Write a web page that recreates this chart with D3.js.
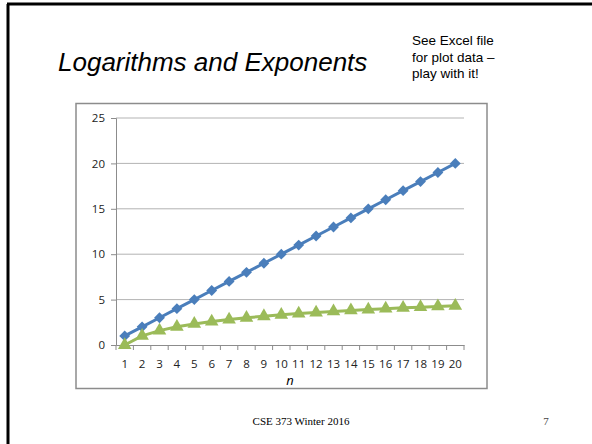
<!DOCTYPE html>
<html lang="en">
<head>
    <meta charset="UTF-8">
    <title>Logarithms and Exponents</title>
    <script src="https://d3js.org/d3.v7.min.js"></script>
    <style>
        body { margin: 0; padding: 0; background: white; }
        svg { display: block; }
        .tick-label { font-family: 'Open Sans', 'Lato', sans-serif; font-size: 11.5px; fill: #222; }
    </style>
</head>
<body>
    <svg width="592" height="444"></svg>
    <script>
        // chart values
        const nValues = [1, 2, 3, 4, 5, 6, 7, 8, 9, 10, 11, 12, 13, 14, 15, 16, 17, 18, 19, 20];
        const linear = [1, 2, 3, 4, 5, 6, 7, 8, 9, 10, 11, 12, 13, 14, 15, 16, 17, 18, 19, 20];
        const logN = [0, 1, 1.58, 2, 2.32, 2.58, 2.81, 3, 3.17, 3.32, 3.46, 3.58, 3.7, 3.81, 3.91, 4, 4.09, 4.17, 4.25, 4.32];
        const yTicks = [0, 5, 10, 15, 20, 25];

        const svg = d3.select("svg");

        // slide frame
        svg.append("line").attr("x1", 8).attr("y1", 4).attr("x2", 8).attr("y2", 444)
           .attr("stroke", "black").attr("stroke-width", 3);
        svg.append("line").attr("x1", 7).attr("y1", 4).attr("x2", 592).attr("y2", 4)
           .attr("stroke", "black").attr("stroke-width", 3);

        svg.append("text")
           .attr("x", 58).attr("y", 71)
           .attr("font-family", "'Liberation Sans', Arial, sans-serif")
           .attr("font-style", "italic")
           .attr("font-size", 26)
           .text("Logarithms and Exponents");

        ["See Excel file", "for plot data \u2013", "play with it!"].forEach(function(t, i) {
            svg.append("text")
               .attr("x", 412).attr("y", 45 + i * 16.5)
               .attr("font-family", "'Liberation Sans', Arial, sans-serif")
               .attr("font-size", 13.5)
               .text(t);
        });

        // chart box
        svg.append("rect")
           .attr("x", 76).attr("y", 103.5)
           .attr("width", 411).attr("height", 285)
           .attr("fill", "white").attr("stroke", "#8c8c8c").attr("stroke-width", 1.5);

        const plotL = 116, plotR = 464, plotT = 118, plotB = 345;

        const x = d3.scaleBand().domain(nValues).range([plotL, plotR]);
        const y = d3.scaleLinear().domain([0, 25]).range([plotB, plotT]);

        // gridlines
        svg.selectAll(".grid")
           .data(yTicks.filter(function(d) { return d > 0; }))
           .enter().append("line")
           .attr("class", "grid")
           .attr("x1", plotL).attr("x2", plotR)
           .attr("y1", function(d) { return y(d); })
           .attr("y2", function(d) { return y(d); })
           .attr("stroke", "#b3b3b3").attr("stroke-width", 1);

        // y axis
        const yAxis = svg.append("g")
           .attr("transform", "translate(" + plotL + ",0)")
           .call(d3.axisLeft(y).tickValues(yTicks).tickSize(5).tickPadding(6));
        yAxis.select(".domain").attr("stroke", "#8c8c8c");
        yAxis.selectAll(".tick line").attr("stroke", "#8c8c8c");
        yAxis.selectAll("text").attr("class", "tick-label").attr("fill", "#222");

        // x axis
        const xAxis = svg.append("g")
           .attr("transform", "translate(0," + plotB + ")")
           .call(d3.axisBottom(x).tickSize(0).tickPadding(15));
        xAxis.select(".domain").attr("stroke", "#8c8c8c");
        xAxis.selectAll("text").attr("class", "tick-label").attr("fill", "#222");
        const bounds = nValues.map(function(d) { return x(d); }).concat([plotR]);
        xAxis.selectAll(".btick")
           .data(bounds)
           .enter().append("line")
           .attr("class", "btick")
           .attr("x1", function(d) { return d; }).attr("x2", function(d) { return d; })
           .attr("y1", 0).attr("y2", 5)
           .attr("stroke", "#8c8c8c");

        svg.append("text")
           .attr("x", (plotL + plotR) / 2).attr("y", 385)
           .attr("text-anchor", "middle")
           .attr("font-family", "'Open Sans', sans-serif")
           .attr("font-style", "italic")
           .attr("font-size", 13)
           .text("n");

        const cx = function(d, i) { return x(nValues[i]) + x.bandwidth() / 2; };

        const line = d3.line()
           .x(function(d, i) { return cx(d, i); })
           .y(function(d) { return y(d); });

        // blue series
        svg.append("path")
           .datum(linear)
           .attr("d", line)
           .attr("fill", "none").attr("stroke", "#4a7ebb").attr("stroke-width", 3);
        svg.selectAll(".diamond")
           .data(linear)
           .enter().append("path")
           .attr("class", "diamond")
           .attr("d", d3.symbol().type(d3.symbolDiamond2).size(75))
           .attr("transform", function(d, i) { return "translate(" + cx(d, i) + "," + y(d) + ")"; })
           .attr("fill", "#4a7ebb");

        // green series
        svg.append("path")
           .datum(logN)
           .attr("d", line)
           .attr("fill", "none").attr("stroke", "#9bbb59").attr("stroke-width", 3);
        svg.selectAll(".tri")
           .data(logN)
           .enter().append("path")
           .attr("class", "tri")
           .attr("d", d3.symbol().type(d3.symbolTriangle).size(80))
           .attr("transform", function(d, i) { return "translate(" + cx(d, i) + "," + y(d) + ")"; })
           .attr("fill", "#9bbb59");

        // footer
        svg.append("text")
           .attr("x", 301).attr("y", 425)
           .attr("text-anchor", "middle")
           .attr("font-family", "'Liberation Serif', 'Times New Roman', serif")
           .attr("font-size", 11)
           .text("CSE 373 Winter 2016");
        svg.append("text")
           .attr("x", 546).attr("y", 425)
           .attr("text-anchor", "middle")
           .attr("font-family", "'Liberation Serif', 'Times New Roman', serif")
           .attr("font-size", 11)
           .attr("fill", "#444")
           .text("7");
    </script>
</body>
</html>
